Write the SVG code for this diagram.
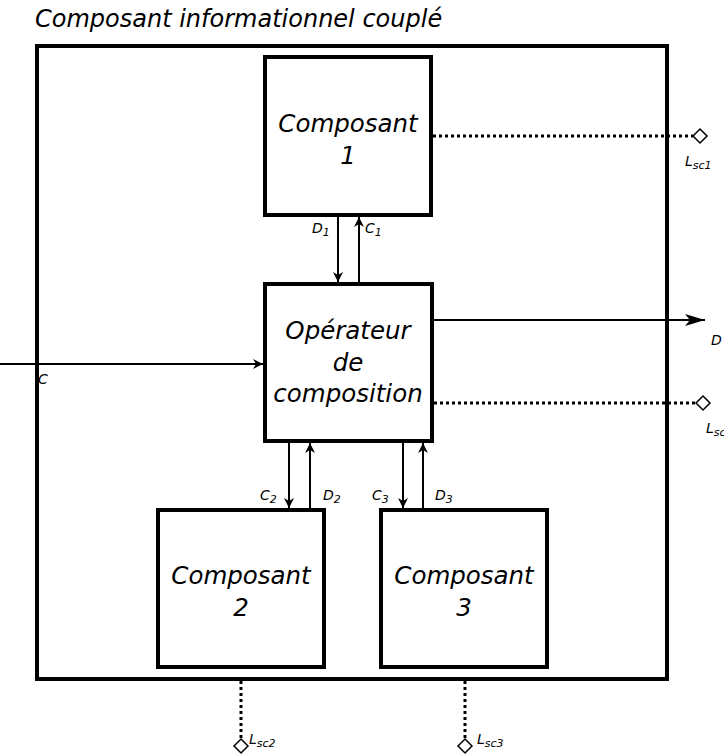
<svg xmlns="http://www.w3.org/2000/svg" width="724" height="755" viewBox="0 0 724 755">
<defs>
<style>
text{font-family:"DejaVu Sans",Verdana,sans-serif;font-style:italic;fill:#000}
.box{fill:#fff;stroke:#000;stroke-width:4}
.big{font-size:24.5px;text-anchor:middle}
.lbl{font-size:14px}
.sub{font-size:11px}
.ln{stroke:#000;stroke-width:2;fill:none}
.dot{stroke:#000;stroke-width:3;stroke-dasharray:3 3;fill:none}
.dia{fill:#fff;stroke:#000;stroke-width:1.5}
</style>
<marker id="ah" viewBox="0 0 10 10" refX="10" refY="5" markerWidth="10" markerHeight="10" markerUnits="userSpaceOnUse" orient="auto">
<path d="M0,0 L10,5 L0,10 L3,5 Z" fill="#000"/>
</marker>
<marker id="ahb" viewBox="0 0 20 12" refX="20" refY="6" markerWidth="20" markerHeight="12" markerUnits="userSpaceOnUse" orient="auto">
<path d="M0,0 L20,6 L0,12 L5,6 Z" fill="#000"/>
</marker>
</defs>
<text x="35" y="27" style="font-size:24px">Composant informationnel couplé</text>
<g id="outer"><rect class="box" x="37" y="46" width="630" height="633"/></g>
<g id="connectors">
<line class="ln" x1="338" y1="217" x2="338" y2="282" marker-end="url(#ah)"/>
<line class="ln" x1="359" y1="282" x2="359" y2="217" marker-end="url(#ah)"/>
<line class="ln" x1="289" y1="443" x2="289" y2="508" marker-end="url(#ah)"/>
<line class="ln" x1="310" y1="508" x2="310" y2="443" marker-end="url(#ah)"/>
<line class="ln" x1="403" y1="443" x2="403" y2="508" marker-end="url(#ah)"/>
<line class="ln" x1="423" y1="508" x2="423" y2="443" marker-end="url(#ah)"/>
<line class="ln" x1="0" y1="364" x2="263" y2="364" marker-end="url(#ah)"/>
<line class="ln" x1="434" y1="320" x2="705" y2="320" marker-end="url(#ahb)"/>
<line class="dot" x1="433" y1="136" x2="693" y2="136"/>
<line class="dot" x1="434" y1="403" x2="696" y2="403"/>
<line class="dot" x1="241" y1="681" x2="241" y2="739"/>
<line class="dot" x1="465" y1="681" x2="465" y2="739"/>
<path class="dia" d="M700,129 L707,136 L700,143 L693,136 Z"/>
<path class="dia" d="M703,396 L710,403 L703,410 L696,403 Z"/>
<path class="dia" d="M241,739 L248,746 L241,753 L234,746 Z"/>
<path class="dia" d="M465,739 L472,746 L465,753 L458,746 Z"/>
</g>
<g id="c1"><rect class="box" x="265" y="57" width="166" height="158"/>
<text class="big" x="348" y="132">Composant</text><text class="big" x="348" y="164">1</text></g>
<g id="op"><rect class="box" x="265" y="284" width="167" height="157"/>
<text class="big" x="348" y="339">Opérateur</text><text class="big" x="348" y="371">de</text><text class="big" x="348" y="402">composition</text></g>
<g id="c2"><rect class="box" x="158" y="510" width="166" height="157"/>
<text class="big" x="241" y="584">Composant</text><text class="big" x="241" y="616">2</text></g>
<g id="c3"><rect class="box" x="381" y="510" width="166" height="157"/>
<text class="big" x="464" y="584">Composant</text><text class="big" x="464" y="616">3</text></g>
<g id="labels">
<text class="lbl" x="312" y="233">D<tspan class="sub" dy="3">1</tspan></text>
<text class="lbl" x="365" y="233">C<tspan class="sub" dy="3">1</tspan></text>
<text class="lbl" x="260" y="500">C<tspan class="sub" dy="3">2</tspan></text>
<text class="lbl" x="323" y="500">D<tspan class="sub" dy="3">2</tspan></text>
<text class="lbl" x="372" y="500">C<tspan class="sub" dy="3">3</tspan></text>
<text class="lbl" x="435" y="500">D<tspan class="sub" dy="3">3</tspan></text>
<text class="lbl" x="38" y="384">C</text>
<text class="lbl" x="711" y="345">D</text>
<text class="lbl" x="685" y="166">L<tspan class="sub" dy="3">sc1</tspan></text>
<text class="lbl" x="706" y="433">L<tspan class="sub" dy="3">sc</tspan></text>
<text class="lbl" x="249" y="744">L<tspan class="sub" dy="3">sc2</tspan></text>
<text class="lbl" x="477" y="744">L<tspan class="sub" dy="3">sc3</tspan></text>
</g>
</svg>
